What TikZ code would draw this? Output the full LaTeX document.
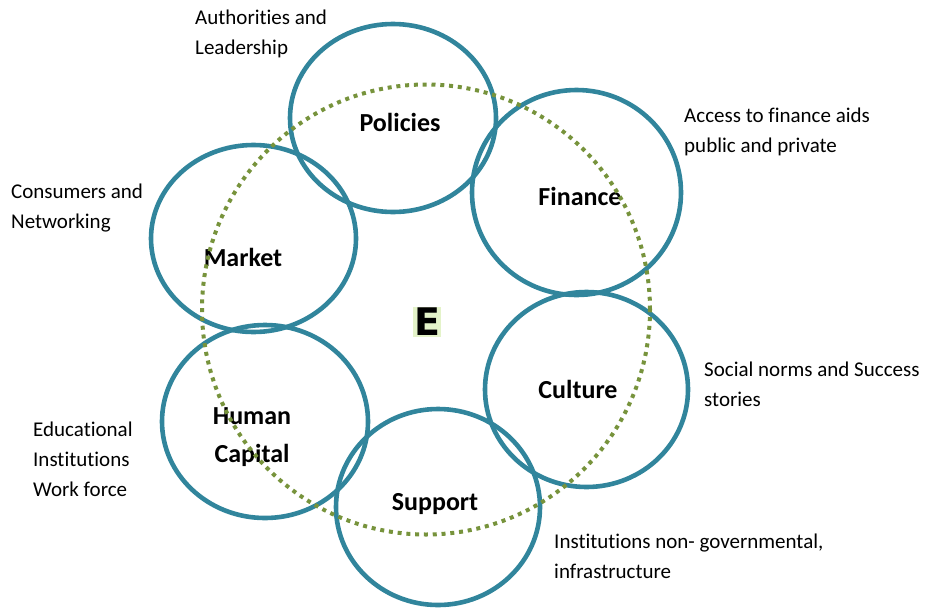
\documentclass[tikz,border=0pt]{standalone}
\usepackage{fontspec}
\setmainfont{Carlito}[Ligatures={NoCommon,NoContextual,NoRare}]
\newfontfamily\efont{DejaVu Sans}
\usetikzlibrary{shapes.geometric}
\definecolor{tealc}{HTML}{31859C}
\definecolor{olivec}{HTML}{77933C}
\definecolor{eglow}{HTML}{E4F3C9}
\begin{document}
\begin{tikzpicture}[x=1pt,y=-1pt,
  ring/.style={ellipse, draw=tealc, line width=4.6pt, inner sep=0pt},
  lbl/.style={font=\fontsize{26}{38}\selectfont\bfseries, align=center, inner sep=0pt},
  note/.style={font=\fontsize{21}{30}\selectfont, align=left, anchor=west, inner sep=0pt}]
\useasboundingbox (0,0) rectangle (925,608);
% rings
\node[ring, minimum width=206pt, minimum height=188pt] (policies) at (393,118) {};
\node[ring, minimum width=209pt, minimum height=205pt] (finance) at (576.5,192.5) {};
\node[ring, minimum width=205pt, minimum height=187pt] (market) at (253.5,238.5) {};
\node[ring, minimum width=206pt, minimum height=193pt] (human) at (265,421.5) {};
\node[ring, minimum width=204pt, minimum height=196pt] (support) at (438,507) {};
\node[ring, minimum width=203pt, minimum height=195pt] (culture) at (586.5,389.5) {};
% labels
\node[lbl] (lpol) at (400,122) {Policies};
\node[lbl] (lfin) at (580,196) {Finance};
\node[lbl] (lmar) at (243,257) {Market};
\node[lbl] (lhum) at (252,437) {Human\\Capital};
\node[lbl] (lsup) at (435,504) {Support};
\node[lbl] (lcul) at (578,389) {Culture};
% center E
\node[fill=eglow, inner sep=1pt, font=\efont\bfseries\fontsize{38}{38}\selectfont] (e) at (427,322) {E};
% notes
\node[note] (n1) at (195,34) {Authorities and\\Leadership};
\node[note] (n2) at (684,132) {Access to finance aids\\public and private};
\node[note] (n3) at (11,208) {Consumers and\\Networking};
\node[note] (n4) at (704,384) {Social norms and Success\\stories};
\node[note] (n5) at (33,459) {Educational\\Institutions\\Work force};
\node[note] (n6) at (554,556) {Institutions non- governmental,\\infrastructure};
% dotted ring
\node[ellipse, draw=olivec, line width=4pt, dash pattern=on 4pt off 4.8pt, minimum width=448pt, minimum height=450pt, inner sep=0pt] (eco) at (426,309.5) {};
\end{tikzpicture}
\end{document}
